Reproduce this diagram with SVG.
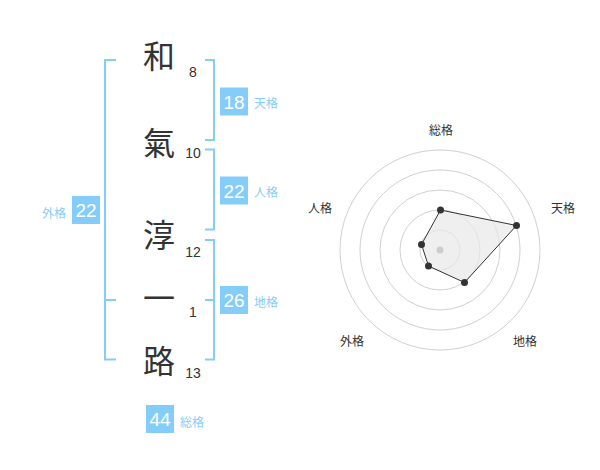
<svg xmlns="http://www.w3.org/2000/svg" width="600" height="470" viewBox="0 0 600 470">
<style>
.kanji{font-family:"Noto Sans CJK JP","Noto Sans CJK SC",sans-serif;font-size:32px;fill:#333;text-anchor:middle}
.num{font-family:"Liberation Sans",Arial,sans-serif;font-size:14px;fill:#333;text-anchor:middle}
.br{fill:none;stroke:#85cdf9;stroke-width:2}
.box{fill:#85cdf9}
.bn{font-family:"Liberation Sans",Arial,sans-serif;font-size:19px;fill:#fff;text-anchor:middle}
.bl{font-family:"Noto Sans CJK JP","Noto Sans CJK SC",sans-serif;font-size:12px;fill:#85cdf9}
.rl{font-family:"Noto Sans CJK JP","Noto Sans CJK SC",sans-serif;font-size:12px;fill:#333;text-anchor:middle}
.ring{fill:none;stroke:#d0d0d0;stroke-width:1}
</style>
<rect width="600" height="470" fill="#fff"/>
<g id="name">
<g id="c1"><text class="kanji" x="159" y="68">和</text><text class="num" x="193" y="77">8</text></g>
<g id="c2"><text class="kanji" x="159" y="155">氣</text><text class="num" x="193" y="158">10</text></g>
<g id="c3"><text class="kanji" x="159" y="247">淳</text><text class="num" x="193" y="257">12</text></g>
<g id="c4"><text class="kanji" x="159" y="310">一</text><text class="num" x="193" y="317">1</text></g>
<g id="c5"><text class="kanji" x="159" y="373">路</text><text class="num" x="193" y="378">13</text></g>
</g>
<g id="connectors">
<path class="br" d="M205,60 H214 V140 H205"/>
<path class="br" d="M205,149.5 H214 V229.5 H205"/>
<path class="br" d="M205,240 H214 V359.5 H205 M205,300 H214"/>
<path class="br" d="M116,60 H105 V359.5 H116 M105,300 H116"/>
</g>
<g id="tenkaku"><rect class="box" x="220" y="87.5" width="28" height="28"/><text class="bn" x="234" y="108.5">18</text><text class="bl" x="254" y="108">天格</text></g>
<g id="jinkaku"><rect class="box" x="220" y="176.5" width="28" height="28"/><text class="bn" x="234" y="197.5">22</text><text class="bl" x="254" y="197">人格</text></g>
<g id="chikaku"><rect class="box" x="220" y="286" width="28" height="28"/><text class="bn" x="234" y="307">26</text><text class="bl" x="254" y="307">地格</text></g>
<g id="gaikaku"><rect class="box" x="72" y="196" width="28" height="28"/><text class="bn" x="86" y="217">22</text><text class="bl" x="66" y="218" text-anchor="end">外格</text></g>
<g id="soukaku"><rect class="box" x="146" y="405" width="28" height="28"/><text class="bn" x="160" y="426">44</text><text class="bl" x="180" y="427">総格</text></g>
<g id="radar">
<circle class="ring" cx="440" cy="250" r="20"/>
<circle class="ring" cx="440" cy="250" r="40"/>
<circle class="ring" cx="440" cy="250" r="60"/>
<circle class="ring" cx="440" cy="250" r="80"/>
<circle class="ring" cx="440" cy="250" r="100"/>
<polygon points="440.5,210 516.5,225.5 464.5,282.5 428.5,266 421.5,244.5" fill="#e8e8e8" fill-opacity="0.7" stroke="#333" stroke-width="1"/>
<circle cx="440" cy="250" r="3.5" fill="#ccc"/>
<g fill="#333">
<circle cx="440.5" cy="210" r="3.5"/>
<circle cx="516.5" cy="225.5" r="3.5"/>
<circle cx="464.5" cy="282.5" r="3.5"/>
<circle cx="428.5" cy="266" r="3.5"/>
<circle cx="421.5" cy="244.5" r="3.5"/>
</g>
<text class="rl" x="441" y="135">総格</text>
<text class="rl" x="563" y="213">天格</text>
<text class="rl" x="525" y="346">地格</text>
<text class="rl" x="352" y="346">外格</text>
<text class="rl" x="320" y="213">人格</text>
</g>
</svg>
